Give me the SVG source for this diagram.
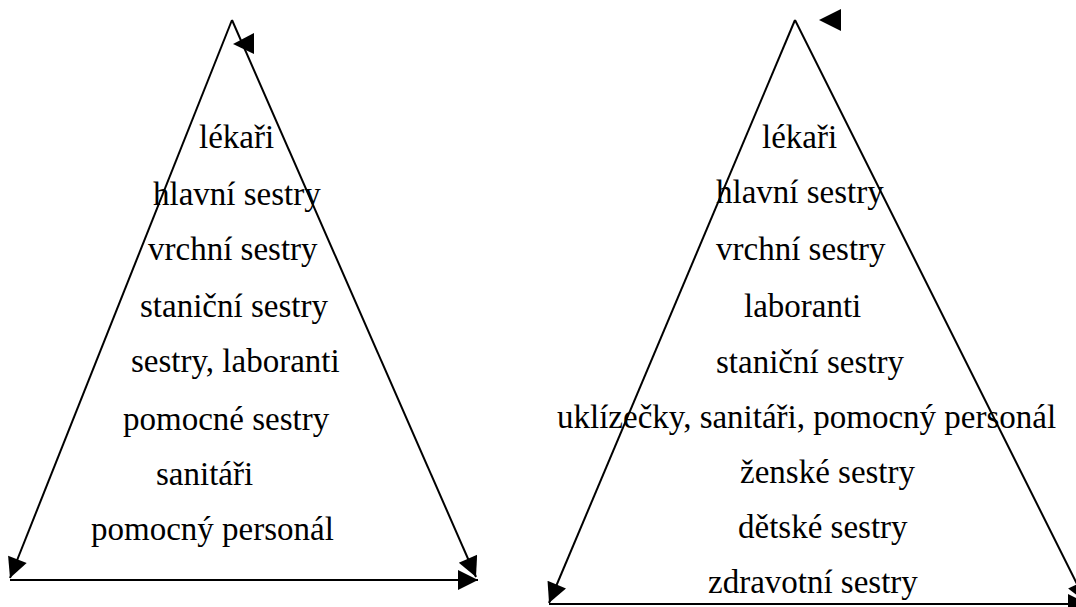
<svg xmlns="http://www.w3.org/2000/svg" width="1076" height="607" viewBox="0 0 1076 607">
  <style>
    .edge { stroke: #000; stroke-width: 2; fill: none; }
    .head { fill: #000; stroke: none; }
    .lbl { font-family: "Liberation Serif", "Times New Roman", serif; font-size: 33px; fill: #000; }
  </style>
  <defs>
    <marker id="arr" viewBox="0 0 10 10" markerUnits="userSpaceOnUse" markerWidth="23" markerHeight="20" refX="10" refY="5" orient="auto">
      <path d="M0,0 L10,5 L0,10 z" fill="#000"/>
    </marker>
  </defs>
  <rect width="1076" height="607" fill="#fff"/>

  <g id="connectors">
    <!-- left pyramid -->
    <line class="edge" x1="232" y1="20" x2="10" y2="578" marker-end="url(#arr)"/>
    <line class="edge" x1="232" y1="20" x2="476" y2="577" marker-end="url(#arr)"/>
    <line class="edge" x1="10" y1="580" x2="478" y2="580" marker-end="url(#arr)"/>
    <polygon class="head" points="233,44 254,33 254,54"/>
    <!-- right pyramid -->
    <line class="edge" x1="795" y1="20" x2="549" y2="603" marker-end="url(#arr)"/>
    <line class="edge" x1="795" y1="20" x2="1086" y2="602" marker-end="url(#arr)"/>
    <line class="edge" x1="549" y1="604" x2="1088" y2="604" marker-end="url(#arr)"/>
    <polygon class="head" points="819,20 841,9 841,31"/>
  </g>

  <g id="left-pyramid">
    <g id="l-lekari"><text class="lbl" x="199" y="148">lékaři</text></g>
    <g id="l-hlavni"><text class="lbl" x="153" y="205">hlavní sestry</text></g>
    <g id="l-vrchni"><text class="lbl" x="148" y="260">vrchní sestry</text></g>
    <g id="l-stanicni"><text class="lbl" x="140" y="317">staniční sestry</text></g>
    <g id="l-sestry-laboranti"><text class="lbl" x="131" y="372">sestry, laboranti</text></g>
    <g id="l-pomocne"><text class="lbl" x="123" y="430">pomocné sestry</text></g>
    <g id="l-sanitari"><text class="lbl" x="156" y="485">sanitáři</text></g>
    <g id="l-personal"><text class="lbl" x="91" y="540">pomocný personál</text></g>
  </g>

  <g id="right-pyramid">
    <g id="r-lekari"><text class="lbl" x="762" y="148">lékaři</text></g>
    <g id="r-hlavni"><text class="lbl" x="716" y="203">hlavní sestry</text></g>
    <g id="r-vrchni"><text class="lbl" x="716" y="260">vrchní sestry</text></g>
    <g id="r-laboranti"><text class="lbl" x="744" y="317">laboranti</text></g>
    <g id="r-stanicni"><text class="lbl" x="716" y="373">staniční sestry</text></g>
    <g id="r-uklizecky"><text class="lbl" x="557" y="428">uklízečky, sanitáři, pomocný personál</text></g>
    <g id="r-zenske"><text class="lbl" x="740" y="483">ženské sestry</text></g>
    <g id="r-detske"><text class="lbl" x="738" y="538">dětské sestry</text></g>
    <g id="r-zdravotni"><text class="lbl" x="708" y="593">zdravotní sestry</text></g>
  </g>
</svg>
